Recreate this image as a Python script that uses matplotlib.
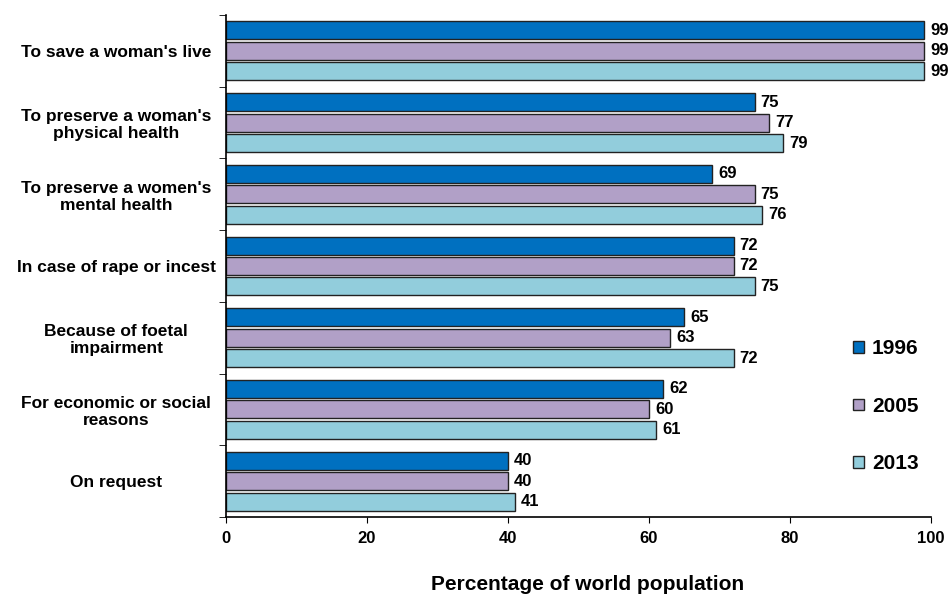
"""Abortion grounds bar chart: share of world population, 1996 / 2005 / 2013."""
import matplotlib
matplotlib.use("Agg")
import matplotlib.pyplot as plt
import numpy as np

plt.rcParams["font.family"] = ["Liberation Sans", "DejaVu Sans"]
plt.rcParams["font.weight"] = "bold"

CATEGORIES = [
    "To save a woman's live",
    "To preserve a woman's\nphysical health",
    "To preserve a women's\nmental health",
    "In case of rape or incest",
    "Because of foetal\nimpairment",
    "For economic or social\nreasons",
    "On request",
]
YEARS = ["1996", "2005", "2013"]
VALUES_1996 = [99, 75, 69, 72, 65, 62, 40]
VALUES_2005 = [99, 77, 75, 72, 63, 60, 40]
VALUES_2013 = [99, 79, 76, 75, 72, 61, 41]
COLORS = ["#0070C0", "#B1A0C7", "#92CDDC"]

series = [VALUES_1996, VALUES_2005, VALUES_2013]
y = np.arange(len(CATEGORIES))
bar_h = 0.25
offsets = [-0.285, 0.0, 0.285]

fig = plt.figure(figsize=(9.48, 5.97), dpi=100)
ax = fig.add_axes([226 / 948, 1 - 517 / 597, (931 - 226) / 948, (517 - 15) / 597])

for vals, off, col, year in zip(series, offsets, COLORS, YEARS):
    bars = ax.barh(y + off, vals, height=bar_h, color=col, edgecolor="#222222",
                   linewidth=1.0, label=year)
    for b, v in zip(bars, vals):
        ax.text(b.get_width() + 0.85, b.get_y() + b.get_height() / 2, f"{v}",
                va="center", ha="left", fontsize=12, fontweight="bold")

ax.set_xlim(0, 100)
ax.set_ylim(len(CATEGORIES) - 0.5, -0.5)
ax.set_xticks(range(0, 101, 20))
ax.tick_params(axis="x", labelsize=12, length=4, direction="out", pad=6)
ax.set_yticks(y)
ax.set_yticklabels(CATEGORIES, fontsize=12.5, fontweight="bold", ha="center",
                   linespacing=1.15)
ax.tick_params(axis="y", which="major", length=0, pad=79)
ax.set_yticks(np.arange(-0.5, len(CATEGORIES), 1), minor=True)
ax.tick_params(axis="y", which="minor", length=5, direction="out")

for side in ("top", "right"):
    ax.spines[side].set_visible(False)
for side in ("left", "bottom"):
    ax.spines[side].set_linewidth(1.2)

fig.text(588 / 948, 1 - 585 / 597, "Percentage of world population",
         ha="center", va="center", fontsize=15, fontweight="bold")

ax.legend(loc="lower right", bbox_to_anchor=(1.0, 0.062), frameon=False,
          fontsize=15, handlelength=0.5, handleheight=0.5, handletextpad=0.4,
          labelspacing=1.85, borderaxespad=0.2)

fig.savefig("out.png", dpi=100)
